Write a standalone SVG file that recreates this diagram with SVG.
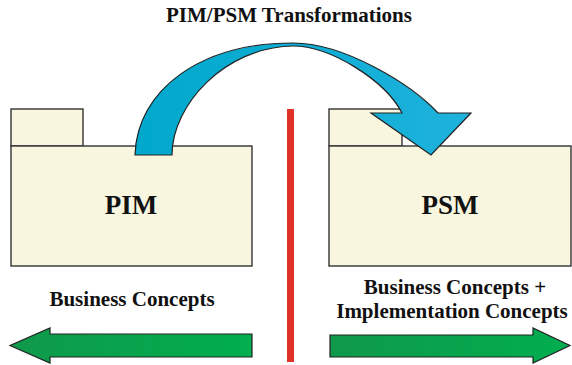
<svg xmlns="http://www.w3.org/2000/svg" width="572" height="365" viewBox="0 0 572 365">
<defs>
<style>
.folder{fill:#F8F6DF;stroke:#333;stroke-width:1.4}
.lbl{font-family:"Liberation Serif","Times New Roman",serif;font-weight:bold;fill:#111}
.arr{stroke:#222;stroke-width:1.2;stroke-linejoin:miter}
</style>
<linearGradient id="blue" x1="135" y1="0" x2="471" y2="0" gradientUnits="userSpaceOnUse">
<stop offset="0" stop-color="#00A8CC"/><stop offset="1" stop-color="#1EB2DC"/>
</linearGradient>
<linearGradient id="green" x1="0" y1="0" x2="1" y2="0">
<stop offset="0" stop-color="#10994A"/><stop offset="1" stop-color="#00AE4F"/>
</linearGradient>
</defs>
<text class="lbl" x="289" y="22" font-size="21" text-anchor="middle">PIM/PSM Transformations</text>
<g id="pim">
<rect class="folder" x="11" y="109" width="72" height="37"/>
<rect class="folder" x="11" y="146" width="241" height="120"/>
<text class="lbl" x="131" y="214" font-size="27" text-anchor="middle">PIM</text>
</g>
<g id="psm">
<rect class="folder" x="329" y="109" width="73" height="37"/>
<rect class="folder" x="329" y="146" width="242" height="120"/>
<text class="lbl" x="450" y="214" font-size="27" text-anchor="middle">PSM</text>
</g>
<g id="divider">
<rect x="287" y="109" width="7" height="253" fill="#E03127"/>
</g>
<g id="connectors">
<path class="arr" fill="url(#blue)" d="M135,155 C137,90 200,43 293,43 C345,43 412,85 438,113 L471,113 L431,155 L371,113 L402,113 C385,80 330,46 293,46 C225,47 172,105 172,155 Z"/>
<path class="arr" fill="url(#green)" d="M252,334 L50,334 L50,328 L10,345.5 L50,363 L50,357 L252,357 Z"/>
<path class="arr" fill="url(#green)" d="M330,335 L533,335 L533,328 L570,345.5 L533,363 L533,357 L330,357 Z"/>
</g>
<g id="labels">
<text class="lbl" x="132" y="306" font-size="21" text-anchor="middle">Business Concepts</text>
<text class="lbl" x="455" y="294" font-size="21" text-anchor="middle">Business Concepts +</text>
<text class="lbl" x="452" y="318" font-size="21" text-anchor="middle">Implementation Concepts</text>
</g>
</svg>
